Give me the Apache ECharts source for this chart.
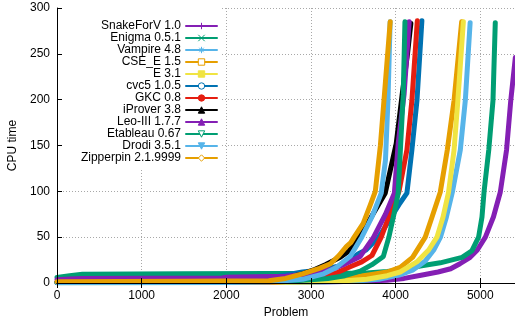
<!DOCTYPE html>
<html>
<head>
<meta charset="utf-8">
<script src="https://cdn.jsdelivr.net/npm/echarts@6/dist/echarts.min.js"></script>
<style>
    html, body { margin: 0; background: #fff; }
    #chart { width: 515px; height: 322px; }
</style>
</head>
<body>
<div id="chart"></div>
<script>
// Solver names, in plot order
const solvers = [
    'SnakeForV 1.0', 'Enigma 0.5.1', 'Vampire 4.8', 'CSE_E 1.5', 'E 3.1', 'cvc5 1.0.5',
    'GKC 0.8', 'iProver 3.8', 'Leo-III 1.7.7', 'Etableau 0.67', 'Drodi 3.5.1', 'Zipperpin 2.1.9999'
];

// Cactus curves: [problem, CPU time]
const snakeForV = [[0, 0.5], [2000, 0.8], [3000, 1.2], [3600, 2], [3900, 3], [4100, 5], [4300, 8.5], [4500, 12],
    [4650, 15.5], [4760, 21], [4880, 28], [4965, 36], [5060, 50], [5155, 72], [5236, 99], [5310, 145],
    [5360, 199], [5414, 246]];
const enigma = [[0, 6], [150, 8], [300, 9.5], [1500, 10], [2500, 10.3], [3200, 10.5], [3660, 11], [3900, 12.5],
    [4054, 14], [4290, 18.5], [4527, 22], [4785, 28], [4900, 35], [4980, 50], [5020, 72], [5045, 100],
    [5100, 145], [5150, 199], [5177, 284]];
const vampire = [[0, 0.2], [2500, 0.5], [3000, 0.9], [3500, 2], [3800, 4], [4054, 9], [4200, 14], [4350, 24],
    [4450, 36], [4530, 50], [4600, 72], [4670, 99], [4764, 145], [4823, 199], [4880, 284]];
const cseE = [[0, 0.5], [2500, 1.2], [3000, 2.5], [3400, 5], [3700, 9], [3900, 12], [4054, 17], [4200, 28],
    [4350, 50], [4430, 72], [4527, 99], [4610, 145], [4690, 199], [4780, 285]];
const e31 = [[0, 0.2], [2500, 0.5], [3000, 1], [3400, 2.5], [3660, 4], [3900, 8], [4054, 12], [4250, 23],
    [4390, 36], [4488, 50], [4560, 72], [4625, 99], [4690, 145], [4735, 199], [4800, 285]];
const cvc5 = [[0, 0.5], [2000, 1.5], [2400, 3], [2650, 8], [2900, 12], [3100, 14], [3350, 19], [3460, 24],
    [3560, 32], [3650, 36], [3800, 50], [3950, 72], [4050, 87], [4133, 98], [4192, 145], [4252, 199], [4310, 286]];
const gkc = [[0, 0.5], [2500, 1.2], [2800, 2], [3110, 7], [3300, 11], [3463, 17.7], [3600, 23], [3720, 30],
    [3830, 50], [3930, 75], [4040, 100], [4133, 145], [4192, 199], [4256, 286]];
const iprover = [[0, 0.5], [2000, 1], [2500, 2.5], [2750, 7], [2900, 10], [3050, 15], [3170, 20], [3345, 28],
    [3450, 35], [3560, 50], [3700, 70], [3877, 98], [4007, 152], [4078, 206], [4140, 250], [4180, 283]];
const leoIII = [[0, 3.5], [150, 4.5], [300, 5], [1950, 5.5], [2000, 6.3], [2700, 7.5], [2900, 9], [3070, 11],
    [3250, 15], [3380, 20], [3582, 29], [3740, 50], [3880, 75], [3985, 98], [4030, 152], [4100, 206], [4160, 285]];
const etableau = [[0, 0.5], [2500, 1.5], [2800, 2.5], [3000, 3.5], [3200, 5], [3400, 8], [3582, 13], [3720, 20],
    [3855, 29], [3920, 50], [3980, 75], [4030, 98], [4060, 152], [4090, 206], [4110, 285]];
const drodi = [[0, 0.3], [2000, 0.6], [2500, 1], [2900, 4], [3150, 10], [3300, 17], [3463, 29], [3600, 50],
    [3720, 72], [3830, 98], [3880, 134], [3910, 200], [3935, 285]];
const zipperpin = [[0, 1.5], [1500, 2], [2500, 2.5], [2700, 5], [2900, 10], [3000, 13], [3100, 16], [3230, 21],
    [3330, 30], [3420, 40], [3470, 44], [3510, 50], [3617, 65], [3700, 85], [3760, 100], [3820, 150],
    [3880, 220], [3936, 285]];

const curves = [snakeForV, enigma, vampire, cseE, e31, cvc5, gkc, iprover, leoIII, etableau, drodi, zipperpin];

// Tick values
const xTicks = [0, 1000, 2000, 3000, 4000, 5000];
const yTicks = [0, 50, 100, 150, 200, 250, 300];

// gnuplot-like colours and point types
const colors = ['#841fb4', '#009e73', '#56b4e9', '#e69f00', '#f0e442', '#0072b2',
    '#e51e10', '#000000', '#841fb4', '#009e73', '#56b4e9', '#e69f00'];
const symbols = [
    'path://M5,0L5,10M0,5L10,5',
    'path://M0,0L10,10M10,0L0,10',
    'path://M5,0L5,10M0,5L10,5M1.5,1.5L8.5,8.5M8.5,1.5L1.5,8.5',
    'rect', 'rect', 'circle', 'circle', 'triangle', 'triangle',
    'path://M0,0L10,0L5,9Z', 'path://M0,0L10,0L5,9Z', 'diamond'
];
const hollow = [false, false, false, true, false, true, false, false, false, true, false, true];

const font = '"Liberation Sans", Arial, sans-serif';

let series = curves.map(function (d, i) {
    return {
        name: solvers[i],
        type: 'line',
        data: d,
        symbol: symbols[i],
        showSymbol: false,
        lineStyle: {color: colors[i], width: 5, cap: 'round', join: 'round'},
        itemStyle: {color: hollow[i] ? '#fff' : colors[i], borderColor: colors[i], borderWidth: 1},
        xAxisIndex: 0,
        yAxisIndex: 0
    };
});

let myChart = echarts.init(document.getElementById('chart'));

let option = {
    animation: false,
    textStyle: {fontFamily: font},
    grid: {left: 57, right: 0, top: 8, bottom: 39, outerBoundsMode: 'none', containLabel: false},
    legend: {
        orient: 'vertical',
        right: 293,
        top: 8,
        align: 'right',
        padding: [12, 4, 4, 22],
        itemGap: 0,
        itemWidth: 31,
        itemHeight: 8,
        backgroundColor: '#fff',
        z: 3,
        lineStyle: {width: 2},
        itemStyle: {borderWidth: 1},
        textStyle: {fontSize: 12, color: '#000', fontFamily: font},
        data: solvers
    },
    xAxis: [
        {
            type: 'value', min: 0, max: 5410, interval: 1000, z: 10,
            name: 'Problem', nameLocation: 'middle', nameGap: 24,
            nameTextStyle: {fontSize: 12, color: '#000'},
            axisLine: {lineStyle: {color: '#000', width: 1}},
            axisTick: {inside: true, length: 5, lineStyle: {color: '#000'}},
            axisLabel: {
                fontSize: 12, color: '#000', margin: 7,
                formatter: function (v) { return xTicks.indexOf(v) >= 0 ? String(v) : ''; }
            },
            splitLine: {show: false}
        },
        {
            type: 'value', position: 'top', min: 0, max: 5410, interval: 1000, z: 10,
            axisLine: {lineStyle: {color: '#000', width: 1}},
            axisTick: {inside: true, length: 5, lineStyle: {color: '#000'}},
            axisLabel: {show: false},
            splitLine: {show: false}
        },
        {
            // dotted grid only
            type: 'value', min: 0, max: 5410, interval: 1000, z: 0,
            axisLine: {show: false}, axisTick: {show: false}, axisLabel: {show: false},
            splitLine: {lineStyle: {color: '#a8a8a8', width: 1, type: [1, 2]}}
        }
    ],
    yAxis: [
        {
            type: 'value', min: 0, max: 300, interval: 50, z: 10,
            name: 'CPU time', nameLocation: 'middle', nameGap: 38,
            nameTextStyle: {fontSize: 12, color: '#000'},
            axisLine: {show: true, lineStyle: {color: '#000', width: 1}},
            axisTick: {show: true, inside: true, length: 5, lineStyle: {color: '#000'}},
            axisLabel: {
                fontSize: 12, color: '#000', margin: 7,
                formatter: function (v) { return yTicks.indexOf(v) >= 0 ? String(v) : ''; }
            },
            splitLine: {show: false}
        },
        {
            type: 'value', min: 0, max: 300, interval: 50, z: 0,
            axisLine: {show: false}, axisTick: {show: false}, axisLabel: {show: false},
            splitLine: {lineStyle: {color: '#a8a8a8', width: 1, type: [1, 2]}}
        }
    ],
    series: series
};

myChart.setOption(option);
</script>
</body>
</html>
